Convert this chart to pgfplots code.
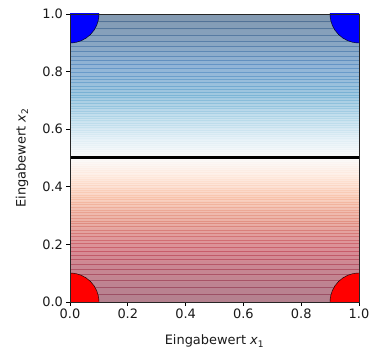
\documentclass[border=0pt]{standalone}
\usepackage{pgfplots}
\pgfplotsset{compat=1.18}
\usepackage{pgfplotstable}
\usepackage{fontspec}
\setmainfont{DejaVu Sans}
\pgfplotsset{
 colormap={fillmap}{rgb255=(179,128,143) rgb255=(217,140,149) rgb255=(235,176,166) rgb255=(250,210,193) rgb255=(254,237,227) rgb255=(251,251,251) rgb255=(232,242,248) rgb255=(201,226,239) rgb255=(161,201,225) rgb255=(144,179,214) rgb255=(130,152,176)},
 colormap={linemap}{rgb255=(150,78,100) rgb255=(200,92,106) rgb255=(226,146,132) rgb255=(248,195,170) rgb255=(254,231,218) rgb255=(249,249,249) rgb255=(223,238,245) rgb255=(180,216,233) rgb255=(124,181,214) rgb255=(100,148,198) rgb255=(80,110,145)},
}
% contour levels: y position and colour value (filled bands)
\pgfplotstableread{
x y c
0 0.0000 0.0000
1 0.0000 0.0000
0 0.0271 0.0111
1 0.0271 0.0111
0 0.0516 0.0222
1 0.0516 0.0222
0 0.0737 0.0333
1 0.0737 0.0333
0 0.0940 0.0444
1 0.0940 0.0444
0 0.1126 0.0556
1 0.1126 0.0556
0 0.1300 0.0667
1 0.1300 0.0667
0 0.1462 0.0778
1 0.1462 0.0778
0 0.1615 0.0889
1 0.1615 0.0889
0 0.1760 0.1000
1 0.1760 0.1000
0 0.1897 0.1111
1 0.1897 0.1111
0 0.2028 0.1222
1 0.2028 0.1222
0 0.2153 0.1333
1 0.2153 0.1333
0 0.2273 0.1444
1 0.2273 0.1444
0 0.2389 0.1556
1 0.2389 0.1556
0 0.2500 0.1667
1 0.2500 0.1667
0 0.2608 0.1778
1 0.2608 0.1778
0 0.2713 0.1889
1 0.2713 0.1889
0 0.2814 0.2000
1 0.2814 0.2000
0 0.2913 0.2111
1 0.2913 0.2111
0 0.3009 0.2222
1 0.3009 0.2222
0 0.3103 0.2333
1 0.3103 0.2333
0 0.3195 0.2444
1 0.3195 0.2444
0 0.3285 0.2556
1 0.3285 0.2556
0 0.3373 0.2667
1 0.3373 0.2667
0 0.3459 0.2778
1 0.3459 0.2778
0 0.3544 0.2889
1 0.3544 0.2889
0 0.3628 0.3000
1 0.3628 0.3000
0 0.3711 0.3111
1 0.3711 0.3111
0 0.3792 0.3222
1 0.3792 0.3222
0 0.3872 0.3333
1 0.3872 0.3333
0 0.3951 0.3444
1 0.3951 0.3444
0 0.4030 0.3556
1 0.4030 0.3556
0 0.4107 0.3667
1 0.4107 0.3667
0 0.4184 0.3778
1 0.4184 0.3778
0 0.4260 0.3889
1 0.4260 0.3889
0 0.4336 0.4000
1 0.4336 0.4000
0 0.4411 0.4111
1 0.4411 0.4111
0 0.4485 0.4222
1 0.4485 0.4222
0 0.4560 0.4333
1 0.4560 0.4333
0 0.4634 0.4444
1 0.4634 0.4444
0 0.4707 0.4556
1 0.4707 0.4556
0 0.4781 0.4667
1 0.4781 0.4667
0 0.4854 0.4778
1 0.4854 0.4778
0 0.4927 0.4889
1 0.4927 0.4889
0 0.5000 0.5000
1 0.5000 0.5000
0 0.5073 0.5111
1 0.5073 0.5111
0 0.5146 0.5222
1 0.5146 0.5222
0 0.5219 0.5333
1 0.5219 0.5333
0 0.5293 0.5444
1 0.5293 0.5444
0 0.5366 0.5556
1 0.5366 0.5556
0 0.5440 0.5667
1 0.5440 0.5667
0 0.5515 0.5778
1 0.5515 0.5778
0 0.5589 0.5889
1 0.5589 0.5889
0 0.5664 0.6000
1 0.5664 0.6000
0 0.5740 0.6111
1 0.5740 0.6111
0 0.5816 0.6222
1 0.5816 0.6222
0 0.5893 0.6333
1 0.5893 0.6333
0 0.5970 0.6444
1 0.5970 0.6444
0 0.6049 0.6556
1 0.6049 0.6556
0 0.6128 0.6667
1 0.6128 0.6667
0 0.6208 0.6778
1 0.6208 0.6778
0 0.6289 0.6889
1 0.6289 0.6889
0 0.6372 0.7000
1 0.6372 0.7000
0 0.6456 0.7111
1 0.6456 0.7111
0 0.6541 0.7222
1 0.6541 0.7222
0 0.6627 0.7333
1 0.6627 0.7333
0 0.6715 0.7444
1 0.6715 0.7444
0 0.6805 0.7556
1 0.6805 0.7556
0 0.6897 0.7667
1 0.6897 0.7667
0 0.6991 0.7778
1 0.6991 0.7778
0 0.7087 0.7889
1 0.7087 0.7889
0 0.7186 0.8000
1 0.7186 0.8000
0 0.7287 0.8111
1 0.7287 0.8111
0 0.7392 0.8222
1 0.7392 0.8222
0 0.7500 0.8333
1 0.7500 0.8333
0 0.7611 0.8444
1 0.7611 0.8444
0 0.7727 0.8556
1 0.7727 0.8556
0 0.7847 0.8667
1 0.7847 0.8667
0 0.7972 0.8778
1 0.7972 0.8778
0 0.8103 0.8889
1 0.8103 0.8889
0 0.8240 0.9000
1 0.8240 0.9000
0 0.8385 0.9111
1 0.8385 0.9111
0 0.8538 0.9222
1 0.8538 0.9222
0 0.8700 0.9333
1 0.8700 0.9333
0 0.8874 0.9444
1 0.8874 0.9444
0 0.9060 0.9556
1 0.9060 0.9556
0 0.9263 0.9667
1 0.9263 0.9667
0 0.9484 0.9778
1 0.9484 0.9778
0 0.9729 0.9889
1 0.9729 0.9889
0 1.0000 1.0000
1 1.0000 1.0000
}\levels
% contour lines, traversed back and forth (links lie on the axis border)
\pgfplotstableread{
x y c
0 0.0271 0.0111
1 0.0271 0.0111
1 0.0516 0.0222
0 0.0516 0.0222
0 0.0737 0.0333
1 0.0737 0.0333
1 0.0940 0.0444
0 0.0940 0.0444
0 0.1126 0.0556
1 0.1126 0.0556
1 0.1300 0.0667
0 0.1300 0.0667
0 0.1462 0.0778
1 0.1462 0.0778
1 0.1615 0.0889
0 0.1615 0.0889
0 0.1760 0.1000
1 0.1760 0.1000
1 0.1897 0.1111
0 0.1897 0.1111
0 0.2028 0.1222
1 0.2028 0.1222
1 0.2153 0.1333
0 0.2153 0.1333
0 0.2273 0.1444
1 0.2273 0.1444
1 0.2389 0.1556
0 0.2389 0.1556
0 0.2500 0.1667
1 0.2500 0.1667
1 0.2608 0.1778
0 0.2608 0.1778
0 0.2713 0.1889
1 0.2713 0.1889
1 0.2814 0.2000
0 0.2814 0.2000
0 0.2913 0.2111
1 0.2913 0.2111
1 0.3009 0.2222
0 0.3009 0.2222
0 0.3103 0.2333
1 0.3103 0.2333
1 0.3195 0.2444
0 0.3195 0.2444
0 0.3285 0.2556
1 0.3285 0.2556
1 0.3373 0.2667
0 0.3373 0.2667
0 0.3459 0.2778
1 0.3459 0.2778
1 0.3544 0.2889
0 0.3544 0.2889
0 0.3628 0.3000
1 0.3628 0.3000
1 0.3711 0.3111
0 0.3711 0.3111
0 0.3792 0.3222
1 0.3792 0.3222
1 0.3872 0.3333
0 0.3872 0.3333
0 0.3951 0.3444
1 0.3951 0.3444
1 0.4030 0.3556
0 0.4030 0.3556
0 0.4107 0.3667
1 0.4107 0.3667
1 0.4184 0.3778
0 0.4184 0.3778
0 0.4260 0.3889
1 0.4260 0.3889
1 0.4336 0.4000
0 0.4336 0.4000
0 0.4411 0.4111
1 0.4411 0.4111
1 0.4485 0.4222
0 0.4485 0.4222
0 0.4560 0.4333
1 0.4560 0.4333
1 0.4634 0.4444
0 0.4634 0.4444
0 0.4707 0.4556
1 0.4707 0.4556
1 0.4781 0.4667
0 0.4781 0.4667
0 0.4854 0.4778
1 0.4854 0.4778
1 0.4927 0.4889
0 0.4927 0.4889
0 0.5073 0.5111
1 0.5073 0.5111
1 0.5146 0.5222
0 0.5146 0.5222
0 0.5219 0.5333
1 0.5219 0.5333
1 0.5293 0.5444
0 0.5293 0.5444
0 0.5366 0.5556
1 0.5366 0.5556
1 0.5440 0.5667
0 0.5440 0.5667
0 0.5515 0.5778
1 0.5515 0.5778
1 0.5589 0.5889
0 0.5589 0.5889
0 0.5664 0.6000
1 0.5664 0.6000
1 0.5740 0.6111
0 0.5740 0.6111
0 0.5816 0.6222
1 0.5816 0.6222
1 0.5893 0.6333
0 0.5893 0.6333
0 0.5970 0.6444
1 0.5970 0.6444
1 0.6049 0.6556
0 0.6049 0.6556
0 0.6128 0.6667
1 0.6128 0.6667
1 0.6208 0.6778
0 0.6208 0.6778
0 0.6289 0.6889
1 0.6289 0.6889
1 0.6372 0.7000
0 0.6372 0.7000
0 0.6456 0.7111
1 0.6456 0.7111
1 0.6541 0.7222
0 0.6541 0.7222
0 0.6627 0.7333
1 0.6627 0.7333
1 0.6715 0.7444
0 0.6715 0.7444
0 0.6805 0.7556
1 0.6805 0.7556
1 0.6897 0.7667
0 0.6897 0.7667
0 0.6991 0.7778
1 0.6991 0.7778
1 0.7087 0.7889
0 0.7087 0.7889
0 0.7186 0.8000
1 0.7186 0.8000
1 0.7287 0.8111
0 0.7287 0.8111
0 0.7392 0.8222
1 0.7392 0.8222
1 0.7500 0.8333
0 0.7500 0.8333
0 0.7611 0.8444
1 0.7611 0.8444
1 0.7727 0.8556
0 0.7727 0.8556
0 0.7847 0.8667
1 0.7847 0.8667
1 0.7972 0.8778
0 0.7972 0.8778
0 0.8103 0.8889
1 0.8103 0.8889
1 0.8240 0.9000
0 0.8240 0.9000
0 0.8385 0.9111
1 0.8385 0.9111
1 0.8538 0.9222
0 0.8538 0.9222
0 0.8700 0.9333
1 0.8700 0.9333
1 0.8874 0.9444
0 0.8874 0.9444
0 0.9060 0.9556
1 0.9060 0.9556
1 0.9263 0.9667
0 0.9263 0.9667
0 0.9484 0.9778
1 0.9484 0.9778
1 0.9729 0.9889
0 0.9729 0.9889
}\contourlines
\begin{document}
\begin{tikzpicture}
\useasboundingbox (-70bp,-54bp) rectangle (306bp,302bp);
\begin{axis}[
  scale only axis,
  width=289bp, height=288bp,
  xmin=0, xmax=1, ymin=0, ymax=1,
  xtick={0,0.2,0.4,0.6,0.8,1},
  ytick={0,0.2,0.4,0.6,0.8,1},
  xticklabels={0.0,0.2,0.4,0.6,0.8,1.0},
  yticklabels={0.0,0.2,0.4,0.6,0.8,1.0},
  xtick pos=bottom, ytick pos=left,
  tick align=outside,
  major tick length=3.5bp,
  tick style={black, line width=0.8bp},
  axis line style={line width=0.9bp, black!85},
  axis on top,
  clip marker paths=true,
  point meta min=0, point meta max=1,
  /pgf/number format/assume math mode=true,
  tick label style={font=\fontsize{13}{15}\selectfont, text=black!90},
  xlabel={Eingabewert \textit{x}\textsubscript{1}},
  ylabel={Eingabewert \textit{x}\textsubscript{2}},
  every axis x label/.style={at={(axis description cs:0.5,-0.149)}, anchor=base, font=\fontsize{13}{15}\selectfont, text=black!90},
  every axis y label/.style={at={(axis description cs:-0.166,0.5)}, anchor=center, rotate=90, font=\fontsize{13}{15}\selectfont, text=black!90},
]
\addplot[surf, shader=flat mean, mesh/ordering=x varies, mesh/cols=2, colormap name=fillmap, point meta=explicit] table[x=x, y=y, meta=c] {\levels};
\addplot[mesh, colormap name=linemap, point meta=explicit, line width=0.9bp] table[x=x, y=y, meta=c] {\contourlines};
\addplot[black, line width=3bp] coordinates {(0,0.5) (1,0.5)};
\addplot[only marks, mark=*, mark size=29bp, mark options={draw=none, fill=blue}] coordinates {(0,1) (1,1)};
\addplot[only marks, mark=*, mark size=29bp, mark options={draw=none, fill=red}] coordinates {(0,0) (1,0)};
\end{axis}
\end{tikzpicture}
\end{document}
